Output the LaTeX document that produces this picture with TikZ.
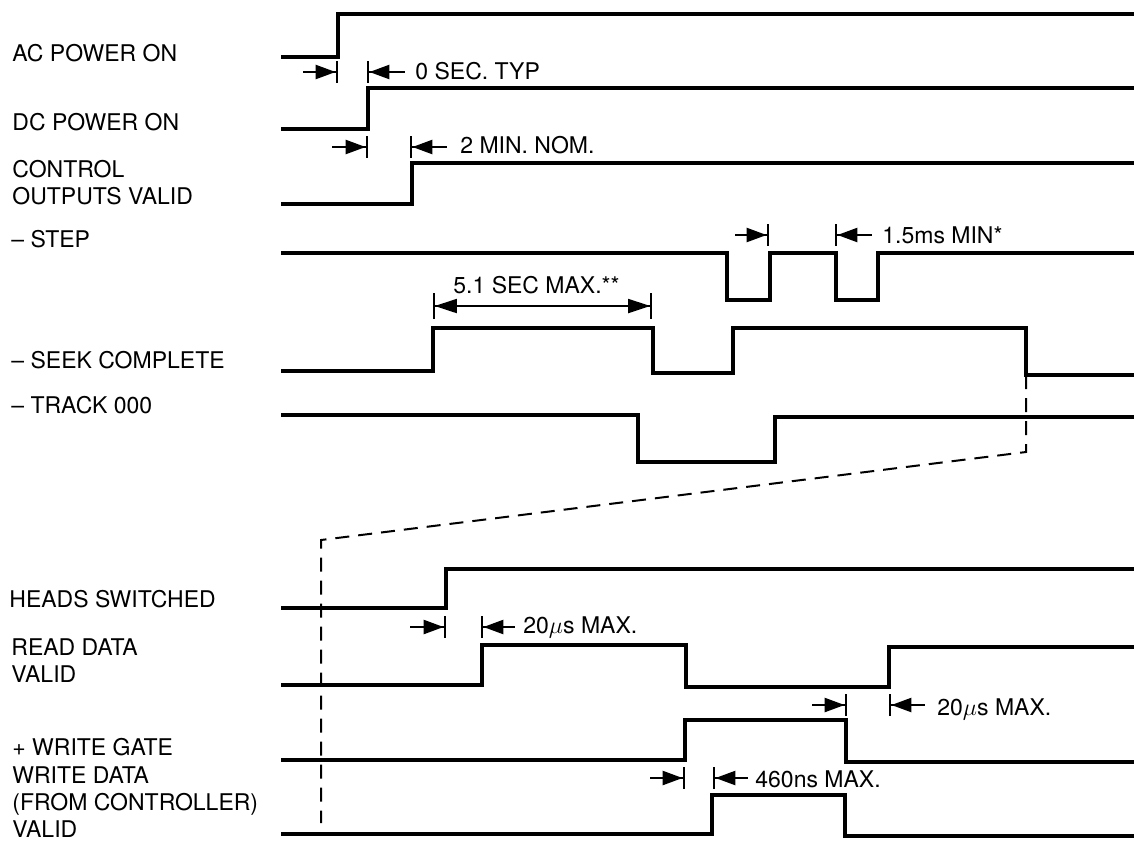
\documentclass[tikz,border=0pt]{standalone}
\usepackage{fontspec}
\setmainfont{TeX Gyre Heros}
\usetikzlibrary{arrows.meta}

\begin{document}
\begin{tikzpicture}[x=0.5pt, y=-0.5pt,
    sig/.style={line width=1.75pt, line join=miter},
    lbl/.style={anchor=base west, inner sep=0pt, align=left, font=\fontsize{11.5}{13.5}\selectfont},
    toedge/.style={line width=1.2pt, -{Triangle[length=10pt,width=7pt]Bar[width=11pt]}},
    fromedge/.style={line width=1.2pt, {Bar[width=11pt]Triangle[length=10pt,width=7pt]}-},
    span/.style={line width=0.9pt, {Bar[width=13pt]Triangle[length=11pt,width=7pt]}-{Triangle[length=11pt,width=7pt]Bar[width=13pt]}},
    guide/.style={line width=1pt, dash pattern=on 7pt off 4.5pt}]

    \useasboundingbox (0,0) rectangle (1134,842);

    % signal names (multi-line ones sit on their last line)
    \node[lbl] (ac) at (12,61) {AC POWER ON};
    \node[lbl] (dc) at (12,130) {DC POWER ON};
    \node[lbl] (ctrl) at (12,204) {CONTROL\\OUTPUTS VALID};
    \node[lbl] (step) at (11,247) {– STEP};
    \node[lbl] (seek) at (11,368) {– SEEK COMPLETE};
    \node[lbl] (trk) at (11,413) {– TRACK 000};
    \node[lbl] (heads) at (9,607) {HEADS SWITCHED};
    \node[lbl] (read) at (11,682) {READ DATA\\VALID};
    \node[lbl] (wgate) at (12,755) {+ WRITE GATE};
    \node[lbl] (wdata) at (12,837) {WRITE DATA\\(FROM CONTROLLER)\\VALID};

    % waveforms
    \draw[sig] (281,57) -| (338,14) -- (1134,14);
    \draw[sig] (281,129) -| (368,88) -- (1134,88);
    \draw[sig] (281,204) -| (412,163) -- (1134,163);
    \draw[sig] (281,253) -| (727,300) -| (770,253) -| (836,300) -| (878,253) -- (1134,253);
    \draw[sig] (281,371) -| (433,328) -| (653,373) -| (733,328) -| (1026,375) -- (1134,375);
    \draw[sig] (281,415) -| (638,462) -| (775,417) -- (1134,417);
    \draw[sig] (281,608) -| (446,569) -- (1134,569);
    \draw[sig] (281,685) -| (482,645) -| (686,687) -| (889,647) -- (1134,647);
    \draw[sig] (281,760) -| (685,720) -| (846,762) -- (1134,762);
    \draw[sig] (281,834) -| (712,795) -| (845,836) -- (1134,836);

    % expansion of the time scale
    \draw[guide] (1026,375) -- (1026,452) -- (321,540) -- (321,823);

    % timing marks
    \draw[toedge] (303,72) -- (338,72);
    \draw[fromedge] (367,72) -- (405,72);
    \node[lbl] (t1) at (415,79) {0 SEC. TYP};

    \draw[toedge] (332,147) -- (368,147);
    \draw[fromedge] (410,147) -- (447,147);
    \node[lbl] (t2) at (460,153) {2 MIN. NOM.};

    \draw[toedge] (735,235) -- (769,235);
    \draw[fromedge] (835,235) -- (872,235);
    \node[lbl] (t3) at (882,243) {1.5ms MIN*};

    \draw[span] (433,306) -- (652,306);
    \node[lbl] (t4) at (453,293) {5.1 SEC MAX.**};

    \draw[toedge] (410,627) -- (446,627);
    \draw[fromedge] (481,627) -- (515,627);
    \node[lbl] (t5) at (523,633) {20$\mu$s MAX.};

    \draw[toedge] (812,705) -- (847,705);
    \draw[fromedge] (889,705) -- (925,705);
    \node[lbl] (t6) at (937,715) {20$\mu$s MAX.};

    \draw[toedge] (650,778) -- (685,778);
    \draw[fromedge] (713,778) -- (748,778);
    \node[lbl] (t7) at (755,787) {460ns MAX.};
\end{tikzpicture}
\end{document}
